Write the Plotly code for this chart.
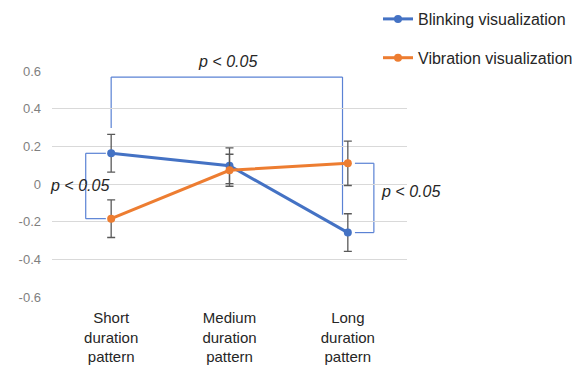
import plotly.graph_objects as go

categories = ["Short<br>duration<br>pattern", "Medium<br>duration<br>pattern", "Long<br>duration<br>pattern"]
blinking = [0.163, 0.097, -0.258]
blinking_err = [0.10, 0.095, 0.10]
vibration = [-0.184, 0.073, 0.110]
vibration_err = [0.10, 0.085, 0.118]
tick_vals = [0.6, 0.4, 0.2, 0, -0.2, -0.4, -0.6]
tick_text = ["0.6", "0.4", "0.2", "0", "-0.2", "-0.4", "-0.6"]
sig_label = "<i>p < 0.05</i>"

FONT = "Liberation Sans, Arial, sans-serif"
BLUE = "#4472C4"
ORANGE = "#ED7D31"
BRACKET = "#5a82d4"
ERRC = "#595959"

Y_MIN, Y_MAX = -0.6, 0.6
X_MIN, X_MAX = -0.5, 2.5

x_idx = list(range(len(categories)))

fig = go.Figure()
fig.add_trace(go.Scatter(
    x=x_idx, y=blinking, mode="lines+markers", name="Blinking visualization",
    line=dict(color=BLUE, width=3), marker=dict(color=BLUE, size=8),
    error_y=dict(type="data", array=blinking_err, color=ERRC, thickness=1.3, width=4),
    legendgroup="a",
))
fig.add_trace(go.Scatter(
    x=x_idx, y=vibration, mode="lines+markers", name="Vibration visualization",
    line=dict(color=ORANGE, width=3), marker=dict(color=ORANGE, size=8),
    error_y=dict(type="data", array=vibration_err, color=ERRC, thickness=1.3, width=4),
    legendgroup="b",
))

# significance brackets
def seg(x0, y0, x1, y1):
    fig.add_shape(type="line", xref="x", yref="y", x0=x0, y0=y0, x1=x1, y1=y1,
                  line=dict(color=BRACKET, width=1.2), layer="below")

# top bracket (Short blinking vs Long blinking)
top_y = 0.568
seg(0, blinking[0] + blinking_err[0] + 0.035, 0, top_y)
seg(0, top_y, 2 - 0.045, top_y)
seg(2 - 0.045, top_y, 2 - 0.045, blinking[2] + blinking_err[2] - 0.005)

# left bracket (Short blinking vs Short vibration)
lx = -0.215
seg(-0.045, blinking[0], lx, blinking[0])
seg(lx, blinking[0], lx, vibration[0])
seg(lx, vibration[0], -0.045, vibration[0])

# right bracket (Long vibration vs Long blinking)
rx = 2.22
seg(2.06, vibration[2], rx, vibration[2])
seg(rx, vibration[2], rx, blinking[2])
seg(rx, blinking[2], 2.06, blinking[2])


def px(xv):
    return (xv - X_MIN) / (X_MAX - X_MIN)


def py(yv):
    return (yv - Y_MIN) / (Y_MAX - Y_MIN)


ann_font = dict(family=FONT, size=16, color="#262626")
for ax_, ay_ in [(0.98, 0.648), (-0.27, -0.007), (2.53, -0.042)]:
    fig.add_annotation(x=px(ax_), y=py(ay_), xref="paper", yref="paper", text=sig_label,
                       xanchor="center", yanchor="middle",
                       showarrow=False, font=ann_font)

fig.update_layout(
    width=583, height=369,
    margin=dict(l=52, r=176, t=71, b=72, autoexpand=False),
    paper_bgcolor="white", plot_bgcolor="white",
    font=dict(family=FONT),
    showlegend=True,
    legend=dict(
        x=1.0 - (407 - 378) / 355, y=1.0 + 69 / 226, xanchor="left", yanchor="top",
        font=dict(family=FONT, size=16, color="#262626"),
        tracegroupgap=15, bgcolor="rgba(0,0,0,0)",
    ),
    xaxis=dict(
        range=[X_MIN, X_MAX], tickvals=x_idx, ticktext=categories,
        showgrid=False, zeroline=False, showline=False, automargin=False,
        tickfont=dict(family=FONT, size=15, color="#262626"),
        ticks="", ticklabelstandoff=10,
    ),
    yaxis=dict(
        range=[Y_MIN, Y_MAX], tickvals=tick_vals, ticktext=tick_text,
        showgrid=True, gridcolor="#d9d9d9", gridwidth=1,
        zeroline=False, showline=False, automargin=False,
        tickfont=dict(family=FONT, size=13, color="#7f7f7f"),
        ticks="", ticklabelstandoff=10,
    ),
)

fig.write_html("out.html")
